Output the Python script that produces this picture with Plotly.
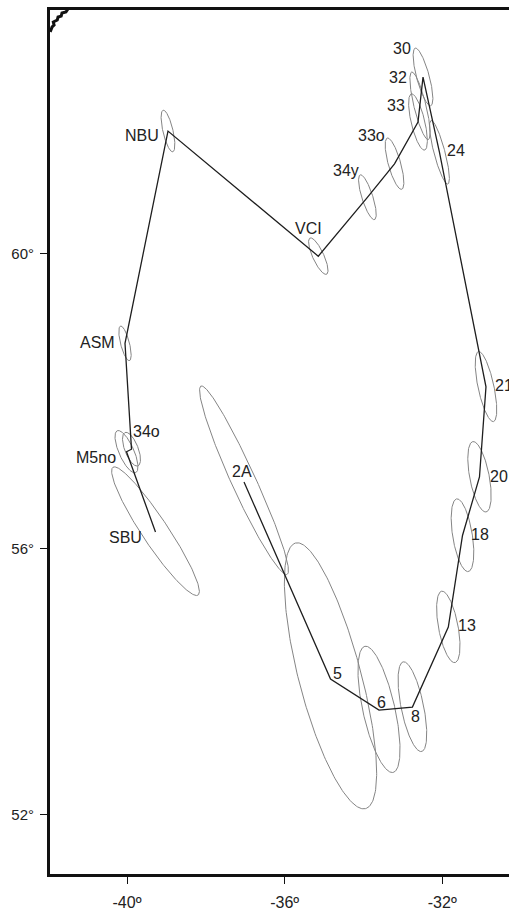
import numpy as np
import plotly.graph_objects as go

# ---------------- data ----------------
site = ["SBU", "M5no", "34o", "ASM", "NBU", "VCI", "34y", "33o", "33", "32",
        "30", "24", "21", "20", "18", "13", "8", "6", "5", "2A"]
pole_lon = [-39.277, -40.013, -39.886, -40.051, -38.96, -35.146, -33.90, -33.212,
            -32.616, -32.565, -32.489, -32.071, -30.891, -31.056, -31.487,
            -31.847, -32.758, -33.606, -34.836, -37.031]
pole_lat = [56.239, 57.363, 57.398, 58.829, 61.53, 59.965, 60.711, 61.128,
            61.639, 61.834, 62.182, 61.268, 58.249, 57.013, 56.189, 54.861,
            53.666, 53.620, 54.089, 56.944]
# confidence ellipse semi-axes (degrees of arc) and azimuth of major axis (deg from N)
semi_major = [1.089, 0.316, 0.247, 0.237, 0.261, 0.255, 0.294, 0.329, 0.351, 0.420,
              0.356, 0.404, 0.482, 0.499, 0.524, 0.535, 0.694, 0.981, 2.059, 1.444]
semi_minor = [0.184, 0.102, 0.092, 0.058, 0.061, 0.071, 0.068, 0.076, 0.082, 0.072,
              0.075, 0.067, 0.106, 0.135, 0.139, 0.143, 0.169, 0.241, 0.463, 0.167]
azimuth = [-33.4, -23.7, -21.0, -14.4, -13.0, -24.5, -17.6, -15.6, -13.2, -13.7,
           -15.0, -14.7, -12.0, -10.7, -9.0, -10.5, -11.5, -12.5, -14.65, -24.4]

# small piece of coastline in the top-left corner
coast_lon = [-41.95, -41.90, -41.85, -41.87, -41.77, -41.75, -41.67, -41.65, -41.55, -41.50]
coast_lat = [62.717, 62.775, 62.798, 62.833, 62.856, 62.891, 62.902, 62.937, 62.949, 62.984]

lon_ticks = [-40, -36, -32]
lon_tick_text = ["-40º", "-36º", "-32º"]
lat_ticks = [52, 56, 60]
lat_tick_text = ["52°", "56°", "60°"]

# ---------------- style (label offsets in px: right, down) ----------------
label_dx = [-30, -30.2, 14.8, -28, -26, -10, -21, -23.5, -21.7, -22.5,
            -21, 17, 18, 20, 17.5, 18.4, 3, 2.7, 7, -1.7]
label_dy = [6, 5.8, -17.5, -0.7, 4.5, -28, -26.5, -28, -17, -28.5,
            -28.7, -1.5, -1.5, -0.5, -1, -1.8, 9, -8, -5.5, -10.5]

FONT = "Liberation Sans, Arial, Helvetica, sans-serif"


def merc(lat_deg):
    lat = np.radians(np.asarray(lat_deg, dtype=float))
    return np.log(np.tan(np.pi / 4 + lat / 2))


fig = go.Figure()

t = np.linspace(0, 2 * np.pi, 241)
for lo, la, a, b, az in zip(pole_lon, pole_lat, semi_major, semi_minor, azimuth):
    azr = np.radians(az)
    north = a * np.cos(t) * np.cos(azr) - b * np.sin(t) * np.sin(azr)
    east = a * np.cos(t) * np.sin(azr) + b * np.sin(t) * np.cos(azr)
    elat = la + north
    elon = lo + east / np.cos(np.radians(la))
    fig.add_trace(go.Scatter(x=elon, y=merc(elat), mode="lines",
                             line=dict(color="#858585", width=1),
                             hoverinfo="skip", showlegend=False))

fig.add_trace(go.Scatter(x=pole_lon, y=merc(pole_lat), mode="lines",
                         line=dict(color="#1e1e1e", width=1.3),
                         hoverinfo="skip", showlegend=False))

fig.add_trace(go.Scatter(x=coast_lon, y=merc(coast_lat), mode="lines",
                         line=dict(color="#111111", width=3),
                         hoverinfo="skip", showlegend=False))

for name, lo, la, dx, dy in zip(site, pole_lon, pole_lat, label_dx, label_dy):
    fig.add_annotation(x=lo, y=float(merc(la)), text=name, showarrow=False,
                       xanchor="center", yanchor="middle",
                       xshift=dx, yshift=-dy,
                       font=dict(family=FONT, size=16, color="#222222"))

fig.update_layout(
    width=509, height=911,
    margin=dict(l=50, r=0, t=10, b=35),
    paper_bgcolor="white", plot_bgcolor="white",
    showlegend=False,
    xaxis=dict(range=[-41.954, -30.307], showgrid=False, zeroline=False,
               showline=True, linewidth=3, linecolor="#111111", mirror=True,
               ticks="outside", ticklen=7, tickwidth=1.2, tickcolor="#111111",
               tickvals=lon_ticks, ticktext=lon_tick_text, ticklabelstandoff=5,
               tickfont=dict(family=FONT, size=16, color="#222222")),
    yaxis=dict(range=[float(merc(51.057)), float(merc(62.973))], showgrid=False,
               zeroline=False, showline=True, linewidth=3, linecolor="#111111",
               mirror=False, ticks="outside", ticklen=7, tickwidth=1.2,
               tickcolor="#111111", ticklabelstandoff=3,
               tickvals=[float(v) for v in merc(lat_ticks)], ticktext=lat_tick_text,
               tickfont=dict(family=FONT, size=15, color="#222222")),
)

fig.write_html(
    "out.html",
    config={"displayModeBar": False},
    post_script="document.body.style.margin='0px';document.body.style.overflow='hidden';",
)
